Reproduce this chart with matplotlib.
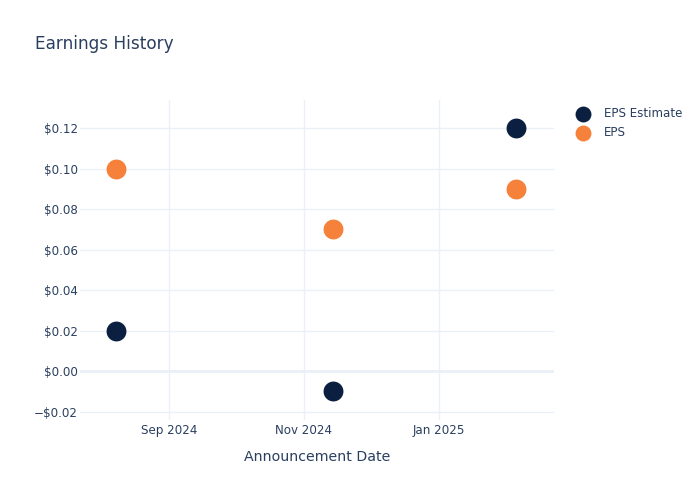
import matplotlib
matplotlib.use("Agg")
import matplotlib.pyplot as plt
import matplotlib.dates as mdates
from matplotlib.ticker import FuncFormatter
import datetime as dt

dates = ["2024-08-08", "2024-11-14", "2025-02-05"]
eps_estimate = [0.02, -0.01, 0.12]
eps_actual = [0.10, 0.07, 0.09]
series_names = ["EPS Estimate", "EPS"]
tick_dates = ["2024-09-01", "2024-11-01", "2025-01-01"]
tick_labels = ["Sep 2024", "Nov 2024", "Jan 2025"]
y_ticks = [-0.02, 0.0, 0.02, 0.04, 0.06, 0.08, 0.10, 0.12]

TEXT = "#2a3f5f"
GRID = "#EBF0F8"
C_EST = "#0b1f40"
C_EPS = "#f5813a"

plt.rcParams['font.family'] = ['DejaVu Sans']

x = [dt.datetime.fromisoformat(d) for d in dates]
fig = plt.figure(figsize=(7, 5), dpi=100)
ax = fig.add_axes([80/700, 80/500, 474/700, 320/500])

ax.scatter(x, eps_estimate, s=205, color=C_EST, zorder=3, label=series_names[0], linewidths=0)
ax.scatter(x, eps_actual, s=205, color=C_EPS, zorder=3, label=series_names[1], linewidths=0)

ax.set_xlim(dt.datetime(2024, 7, 22, 19), dt.datetime(2025, 2, 21, 23))
ax.set_ylim(-0.0242, 0.134)

ax.set_xticks([dt.datetime.fromisoformat(d) for d in tick_dates])
ax.set_xticklabels(tick_labels)
ax.set_yticks(y_ticks)

def fmt(v, pos):
    if abs(v) < 1e-9:
        return "$0.00"
    s = f"${abs(v):.2f}"
    return ("\u2212" + s) if v < 0 else s

ax.yaxis.set_major_formatter(FuncFormatter(fmt))

for sp in ax.spines.values():
    sp.set_visible(False)
ax.grid(True, color=GRID, linewidth=1, zorder=0)
ax.axhline(0, color=GRID, linewidth=2, zorder=1)
ax.set_axisbelow(True)
ax.tick_params(axis='both', length=0, colors=TEXT, labelsize=8.6)
ax.tick_params(axis='x', pad=3)
ax.tick_params(axis='y', pad=1.5)

ax.set_xlabel("Announcement Date", color=TEXT, fontsize=10.2, labelpad=9)

fig.text(35/700, 1 - 44/500, "Earnings History", color=TEXT, fontsize=12.2, va='center', ha='left')

leg = ax.legend(loc='upper left', bbox_to_anchor=((571 - 80)/474, 1 - 7/320), frameon=False,
                fontsize=8.6, labelcolor=TEXT, handletextpad=0.75, borderaxespad=0,
                borderpad=0, labelspacing=0.53, markerscale=0.8)

fig.savefig("out.png", dpi=100)
